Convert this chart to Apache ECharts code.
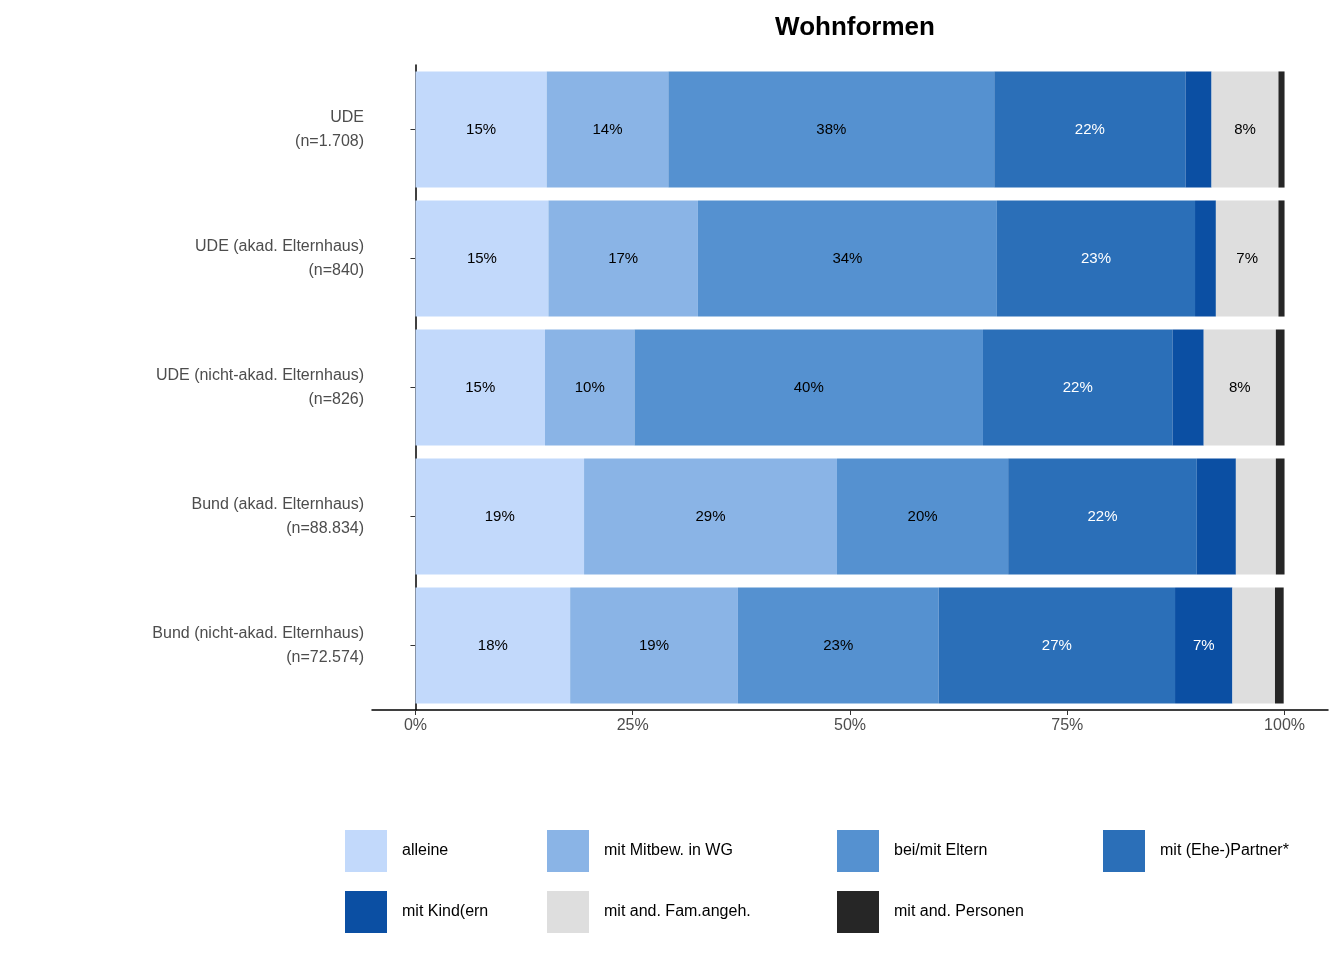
<!DOCTYPE html>
<html style="height: 100%">
<head>
    <meta charset="utf-8" />
    <title>Wohnformen</title>
    <script src="https://cdn.jsdelivr.net/npm/echarts@6/dist/echarts.min.js"></script>
</head>
<body style="height: 100%; margin: 0; overflow: hidden; background: #fff">
    <div id="container" style="width: 1344px; height: 960px"></div>
    <script>
        var groups = ["UDE\n(n=1.708)", "UDE (akad. Elternhaus)\n(n=840)", "UDE (nicht-akad. Elternhaus)\n(n=826)",
            "Bund (akad. Elternhaus)\n(n=88.834)", "Bund (nicht-akad. Elternhaus)\n(n=72.574)"];
        var names = ["alleine", "mit Mitbew. in WG", "bei/mit Eltern", "mit (Ehe-)Partner*", "mit Kind(ern", "mit and. Fam.angeh.", "mit and. Personen"];
        var colors = ["#c2d9fb", "#8ab4e6", "#5591d0", "#2b6fb8", "#0b4fa3", "#dedede", "#262626"];
        var labelColors = ["#000", "#000", "#000", "#fff", "#fff", "#000", "#fff"];
        // Anteile je Gruppe, Reihenfolge wie names
        var alleine = [15.1, 15.3, 14.9, 19.4, 17.8];
        var wg = [14.0, 17.2, 10.3, 29.1, 19.3];
        var eltern = [37.5, 34.4, 40.1, 19.7, 23.1];
        var partner = [22.0, 22.8, 21.8, 21.7, 27.2];
        var kind = [3.0, 2.4, 3.6, 4.5, 6.6];
        var fam = [7.7, 7.2, 8.3, 4.6, 4.9];
        var andere = [0.7, 0.7, 1.0, 1.0, 1.0];
        var values = [alleine, wg, eltern, partner, kind, fam, andere];

        var myChart = echarts.init(document.getElementById("container"));
        var series = names.map(function (n, i) {
            return {
                name: n, type: "bar", stack: "all", data: values[i],
                barCategoryGap: "10%",
                itemStyle: { color: colors[i] },
                label: {
                    show: true, position: "inside", fontSize: 15, fontFamily: "Liberation Sans",
                    color: labelColors[i],
                    formatter: function (p) { return p.value >= 5 ? Math.round(p.value) + "%" : ""; }
                }
            };
        });
        var legendCols = [[0, 4], [1, 5], [2, 6], [3]];
        var legendLeft = [340, 542, 832, 1098];
        var legends = legendCols.map(function (c, k) {
            return {
                left: legendLeft[k], top: 825, orient: "vertical", itemWidth: 42, itemHeight: 42, itemGap: 19,
                icon: "rect", data: c.map(function (i) { return names[i]; }),
                textStyle: { fontSize: 16, fontFamily: "Liberation Sans", color: "#000", padding: [0, 0, 0, 10] }
            };
        });
        var option = {
            animation: false,
            title: { text: "Wohnformen", left: 850, textAlign: "center", top: 10,
                textStyle: { fontSize: 26, fontWeight: "bold", fontFamily: "Liberation Sans", color: "#000" } },
            grid: { left: 372, right: 16, top: 65, bottom: 250 },
            legend: legends,
            xAxis: {
                type: "value", min: -5, max: 105,
                splitLine: { show: false },
                axisLine: { show: true, lineStyle: { color: "#000", width: 1.5 } },
                axisTick: { show: true, customValues: [0, 25, 50, 75, 100], lineStyle: { color: "#333" } },
                axisLabel: { customValues: [0, 25, 50, 75, 100], formatter: "{value}%", fontSize: 16,
                    fontFamily: "Liberation Sans", color: "#4d4d4d" }
            },
            yAxis: {
                type: "category", data: groups, inverse: true,
                axisLine: { show: true, lineStyle: { color: "#000", width: 1.5 } },
                axisTick: { show: true, alignWithLabel: true, lineStyle: { color: "#333" } },
                axisLabel: { fontSize: 16, fontFamily: "Liberation Sans", color: "#4d4d4d", align: "right", lineHeight: 24 }
            },
            series: series
        };
        myChart.setOption(option);
    </script>
</body>
</html>
